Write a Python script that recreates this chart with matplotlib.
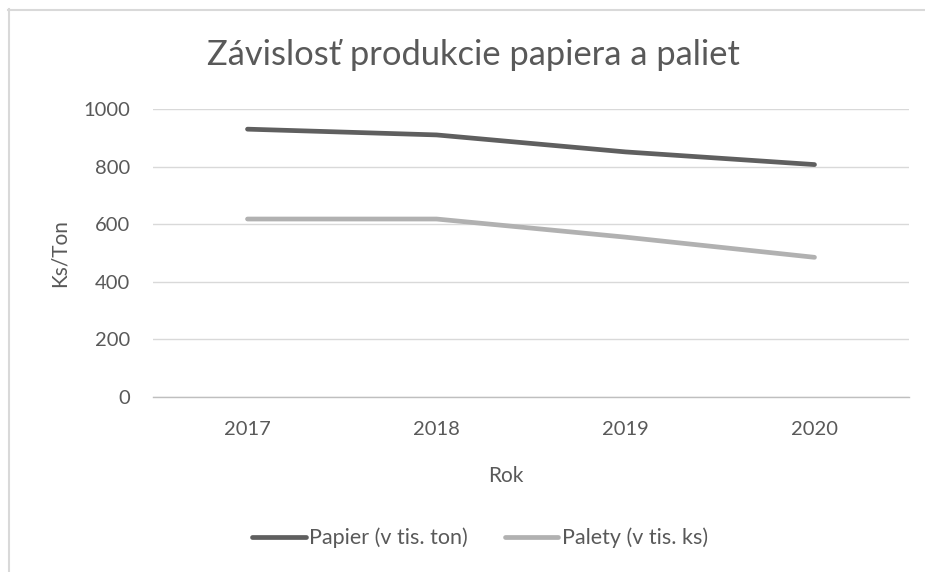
import matplotlib
matplotlib.use("Agg")
import matplotlib.pyplot as plt
from matplotlib.lines import Line2D

years = ["2017", "2018", "2019", "2020"]
papier = [930, 910, 851, 807]
palety = [618, 618, 555, 485]
series_names = ["Papier (v tis. ton)", "Palety (v tis. ks)"]
y_ticks = [0, 200, 400, 600, 800, 1000]

TEXT = "#595959"
GRID = "#D9D9D9"
FONT = "Lato"

plt.rcParams["font.family"] = [FONT, "DejaVu Sans"]

W, H = 925, 572
fig = plt.figure(figsize=(W / 100, H / 100), dpi=100)
fig.patch.set_facecolor("white")

# plot area in pixel terms
left, right, top, bottom = 153, 909, 109, 397
ax = fig.add_axes([left / W, 1 - bottom / H, (right - left) / W, (bottom - top) / H])

x = list(range(len(years)))
ax.plot(x, papier, color="#5F5F5F", lw=3.4, solid_capstyle="round",
        solid_joinstyle="round", label=series_names[0], zorder=3)
ax.plot(x, palety, color="#B1B1B1", lw=3.4, solid_capstyle="round",
        solid_joinstyle="round", label=series_names[1], zorder=3)

ax.set_xlim(-0.5, len(years) - 0.5)
ax.set_ylim(0, 1000)
ax.set_yticks(y_ticks)
ax.set_yticklabels([str(v) for v in y_ticks])
ax.set_xticks(x)
ax.set_xticklabels(years)

for s in ["top", "right", "left"]:
    ax.spines[s].set_visible(False)
ax.spines["bottom"].set_color("#BFBFBF")
ax.spines["bottom"].set_linewidth(1.0)

ax.yaxis.grid(True, color=GRID, lw=1.0)
ax.set_axisbelow(True)
ax.tick_params(axis="both", length=0, labelsize=14.5, labelcolor=TEXT)
ax.tick_params(axis="y", pad=16.5)
ax.tick_params(axis="x", pad=17.5)

fig.text(60 / W, 1 - 253 / H, "Ks/Ton", rotation=90, ha="center", va="center",
         fontsize=15, color=TEXT)
fig.text(506 / W, 1 - 476 / H, "Rok", ha="center", va="center",
         fontsize=15, color=TEXT)
fig.text(473 / W, 1 - 55 / H, "Závislosť produkcie papiera a paliet",
         ha="center", va="center", fontsize=24.8, color=TEXT)

leg = fig.legend(loc="center", bbox_to_anchor=(480 / W, 1 - 538 / H), ncol=2,
                 frameon=False, fontsize=15.5, handlelength=2.5,
                 handletextpad=0.15, columnspacing=1.7)
for t in leg.get_texts():
    t.set_color(TEXT)

# outer chart frame (top and left edges)
fig.add_artist(Line2D([8 / W, 1], [1 - 9.5 / H, 1 - 9.5 / H],
                      transform=fig.transFigure, color=GRID, lw=1.5))
fig.add_artist(Line2D([8.5 / W, 8.5 / W], [0, 1 - 9 / H],
                      transform=fig.transFigure, color=GRID, lw=1.5))

fig.savefig("out.png", dpi=100, facecolor="white")
